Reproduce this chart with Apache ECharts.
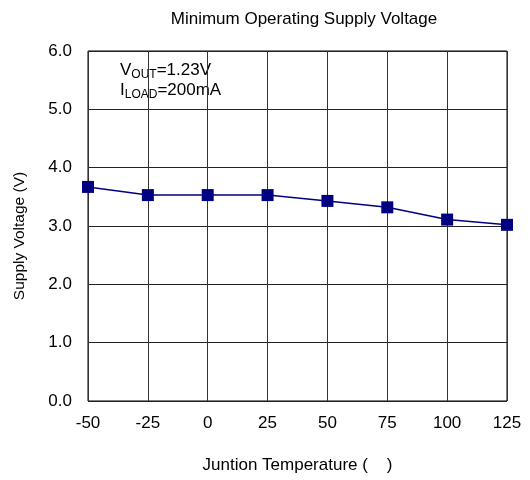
<!DOCTYPE html>
<html>
<head>
<meta charset="utf-8">
<script src="https://cdn.jsdelivr.net/npm/echarts@6/dist/echarts.min.js"></script>
<style>html,body{margin:0;padding:0;background:#fff}#c{width:530px;height:480px}</style>
</head>
<body>
<div id="c"></div>
<script>
var temps = [-50, -25, 0, 25, 50, 75, 100, 125];
var voltages = [3.67, 3.53, 3.53, 3.53, 3.43, 3.32, 3.11, 3.02];
var title = 'Minimum Operating Supply Voltage';
var xName = 'Juntion Temperature (    )';
var yName = 'Supply Voltage (V)';

var chart = echarts.init(document.getElementById('c'));
var font = 'Arial, "Liberation Sans", sans-serif';
chart.setOption({
  backgroundColor: '#fff',
  animation: false,
  title: {
    text: title, left: 299, top: 6, textAlign: 'center',
    textStyle: {fontFamily: font, fontSize: 17, fontWeight: 'normal', color: '#000'}
  },
  grid: {left: 88, right: 23, top: 51, bottom: 79, show: true, borderColor: '#000', borderWidth: 1},
  xAxis: {
    type: 'value', min: -50, max: 125, interval: 25,
    name: xName, nameLocation: 'middle', nameGap: 56,
    nameTextStyle: {fontFamily: font, fontSize: 17, color: '#000'},
    axisLine: {show: false}, axisTick: {show: false},
    axisLabel: {fontFamily: font, fontSize: 17, color: '#000', margin: 14},
    splitLine: {lineStyle: {color: '#333', width: 1}}
  },
  yAxis: {
    type: 'value', min: 0, max: 6, interval: 1,
    name: yName, nameLocation: 'middle', nameGap: 60,
    nameTextStyle: {fontFamily: font, fontSize: 15.5, color: '#000', padding: [0, 20, 0, 0]},
    axisLine: {show: false}, axisTick: {show: false},
    axisLabel: {fontFamily: font, fontSize: 17, color: '#000', margin: 16,
      formatter: function (v) { return v.toFixed(1); }},
    splitLine: {lineStyle: {color: '#222', width: 1}}
  },
  graphic: [{
    type: 'text', left: 120, top: 62,
    style: {
      text: '{m|V}{s|OUT}{m|=1.23V}\n{m|I}{s|LOAD}{m|=200mA}',
      rich: {
        m: {fontFamily: font, fontSize: 17, fill: '#000', lineHeight: 20},
        s: {fontFamily: font, fontSize: 12, fill: '#000', lineHeight: 20, verticalAlign: 'bottom', padding: [6, 0, 0, 0]}
      }
    }
  }],
  series: [{
    type: 'line',
    data: temps.map(function (t, i) { return [t, voltages[i]]; }),
    symbol: 'rect', symbolSize: 12,
    lineStyle: {color: '#000080', width: 1.5},
    itemStyle: {color: '#000080'}
  }]
});
</script>
</body>
</html>
